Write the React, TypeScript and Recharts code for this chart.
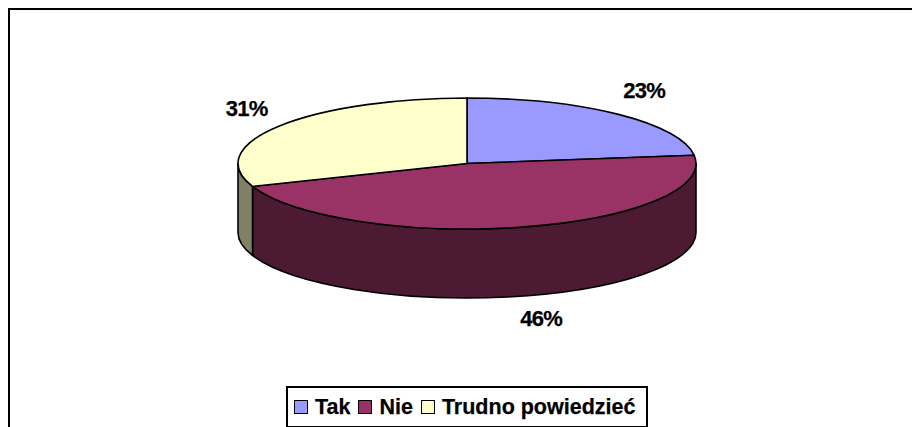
import { PieChart, Pie, Legend } from 'recharts'

const CATEGORIES = ['Tak', 'Nie', 'Trudno powiedzieć']
const VALUES = [23, 46.3, 30.7]
const TOP_COLORS = ['#9999ff', '#993366', '#ffffcc']
const SIDE_COLORS = ['#4d4d80', '#4d1a33', '#808066']

const W = 912
const H = 427
const CX = 467
const CY = 163.5
const RX = 229
const RY = 65.5
const DEPTH = 69

const data = CATEGORIES.map((name, i) => ({ name, value: VALUES[i] }))

// recharts angles: 0 = east, counter clockwise
const ptOn = (cx: number, cy: number, a: number) => {
  const r = (a * Math.PI) / 180
  return [cx + RX * Math.cos(r), cy - RY * Math.sin(r)]
}

function TopSlice(props: any) {
  const { cx, cy, startAngle, endAngle, index } = props
  const [x0, y0] = ptOn(cx, cy, startAngle)
  const [x1, y1] = ptOn(cx, cy, endAngle)
  const large = Math.abs(startAngle - endAngle) > 180 ? 1 : 0
  const d = `M${cx},${cy} L${x0},${y0} A${RX},${RY} 0 ${large} 1 ${x1},${y1} Z`
  return <path d={d} fill={TOP_COLORS[index]} stroke="#000" strokeWidth={1.6} strokeLinejoin="round" />
}

// the wall only shows on the front half of the ellipse
function SideSlice(props: any) {
  const { cx, cy, startAngle, endAngle, index } = props
  const from = Math.min(startAngle, 0)
  const to = Math.max(endAngle, -180)
  if (from <= to) return <g />
  const [x0, y0] = ptOn(cx, cy, from)
  const [x1, y1] = ptOn(cx, cy, to)
  const d = `M${x0},${y0} A${RX},${RY} 0 0 1 ${x1},${y1} L${x1},${y1 + DEPTH} A${RX},${RY} 0 0 0 ${x0},${y0 + DEPTH} Z`
  return <path d={d} fill={SIDE_COLORS[index]} stroke="#000" strokeWidth={1.6} strokeLinejoin="round" />
}

function PercentLabel(props: any) {
  const { cx, cy, midAngle, percent, index } = props
  const r = (midAngle * Math.PI) / 180
  const x = cx + 268 * Math.cos(r) + (index === 1 ? 10 : 0)
  const front = Math.sin(r) < 0 ? 60.5 : 0
  const y = cy - 97 * Math.sin(r) + front
  return (
    <text
      x={x}
      y={y}
      textAnchor="middle"
      dominantBaseline="central"
      fontFamily="Liberation Sans"
      fontWeight="bold"
      fontSize={22}
      letterSpacing={-0.7}
      stroke="#000"
      strokeWidth={0.25}
      fill="#000"
    >
      {`${Math.round(percent * 100)}%`}
    </text>
  )
}

function LegendBox() {
  return (
    <div
      style={{
        display: 'flex',
        alignItems: 'center',
        width: 346,
        height: 38,
        border: '2px solid #000',
        padding: '0 6px',
        background: '#fff',
        fontFamily: 'Liberation Sans',
        fontWeight: 'bold',
        fontSize: 21.5,
        color: '#000',
        whiteSpace: 'nowrap',
        WebkitTextStroke: '0.25px #000',
      }}
    >
      {CATEGORIES.map((c, i) => (
        <span key={c} style={{ display: 'flex', alignItems: 'center', marginLeft: i ? 8 : 0 }}>
          <span
            style={{
              width: 12,
              height: 12,
              background: TOP_COLORS[i],
              border: '1px solid #000',
              marginRight: 7,
            }}
          />
          {c}
        </span>
      ))}
    </div>
  )
}

export default function App() {
  return (
    <div style={{ position: 'absolute', left: 0, top: 0, width: W, height: H, overflow: 'hidden', background: '#fff' }}>
      <div
        style={{
          position: 'absolute',
          left: 8,
          top: 8,
          width: 910,
          height: 440,
          borderTop: '2px solid #000',
          borderLeft: '2px solid #000',
        }}
      />
      <div style={{ position: 'absolute', left: 0, top: 0 }}>
        <PieChart width={W} height={H} margin={{ top: 0, right: 0, bottom: 0, left: 0 }}>
          <Pie
            data={data}
            dataKey="value"
            nameKey="name"
            cx={CX}
            cy={CY}
            outerRadius={RX}
            startAngle={90}
            endAngle={-270}
            legendType="none"
            isAnimationActive={false}
            shape={SideSlice}
          />
          <Pie
            data={data}
            dataKey="value"
            nameKey="name"
            cx={CX}
            cy={CY}
            outerRadius={RX}
            startAngle={90}
            endAngle={-270}
            isAnimationActive={false}
            shape={TopSlice}
            label={PercentLabel}
            labelLine={false}
          />
          <Legend
            content={<LegendBox />}
            wrapperStyle={{ position: 'absolute', left: 286, top: 386, width: 'auto', bottom: 'auto' }}
          />
        </PieChart>
      </div>
    </div>
  )
}
